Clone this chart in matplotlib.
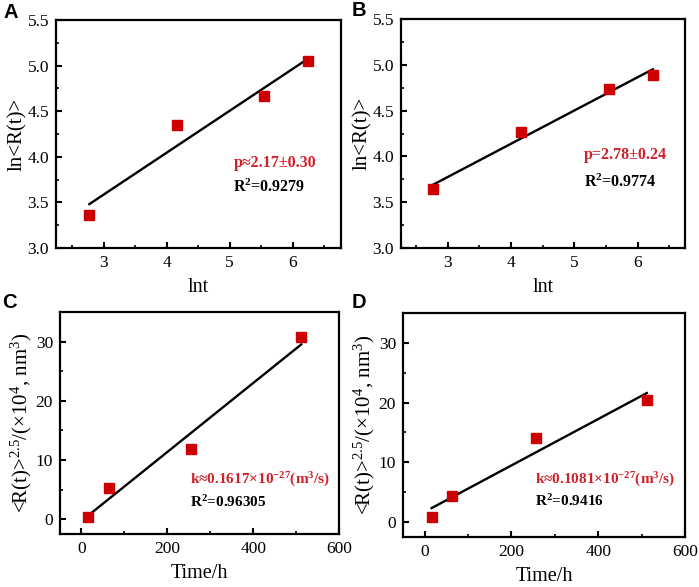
import numpy as np
import matplotlib
matplotlib.use("Agg")
import matplotlib.pyplot as plt
from matplotlib.ticker import MultipleLocator, FormatStrFormatter

plt.rcParams['font.family'] = ['Liberation Serif', 'DejaVu Serif']
plt.rcParams['mathtext.fontset'] = 'custom'
plt.rcParams['mathtext.rm'] = 'Liberation Serif'
plt.rcParams['mathtext.bf'] = 'Liberation Serif:bold'
plt.rcParams['mathtext.it'] = 'Liberation Serif:italic'

# ---- data ----
time_h = [16, 64, 256, 512]
ln_t = [2.77, 4.16, 5.55, 6.24]
lnR_A = [3.36, 4.35, 4.67, 5.05]
lnR_B = [3.64, 4.27, 4.74, 4.89]
R25_C = [0.4, 5.3, 11.8, 30.7]
R25_D = [0.9, 4.4, 14.1, 20.4]

txt_A = ["p≈2.17±0.30", r"R$^{\mathbf{2}}$=0.9279"]
txt_B = ["p=2.78±0.24", r"R$^{\mathbf{2}}$=0.9774"]
txt_C = [r"k≈0.1617×10$^{\mathbf{-27}}$(m$^{\mathbf{3}}$/s)", r"R$^{\mathbf{2}}$=0.96305"]
txt_D = [r"k≈0.1081×10$^{\mathbf{-27}}$(m$^{\mathbf{3}}$/s)", r"R$^{\mathbf{2}}$=0.9416"]

RED = '#d0202a'
W, H = 699, 587
fig = plt.figure(figsize=(W / 100, H / 100), dpi=100)

def pos(l, r, t, b):
    return [l / W, 1 - b / H, (r - l) / W, (b - t) / H]

def style(ax, xmaj, xmin, ymaj, ymin):
    for s in ax.spines.values():
        s.set_linewidth(1.6)
    ax.xaxis.set_major_locator(MultipleLocator(xmaj))
    ax.xaxis.set_minor_locator(MultipleLocator(xmin))
    ax.yaxis.set_major_locator(MultipleLocator(ymaj))
    ax.yaxis.set_minor_locator(MultipleLocator(ymin))
    ax.tick_params(which='both', direction='in', top=False, right=False, labelsize=12.5, pad=5)
    ax.tick_params(which='major', length=4, width=1.5)
    ax.tick_params(which='minor', length=2.5, width=1.2)

def panel(rect, x, y, xlim, ylim, xl, yl, txt, tpos, letter, lpos, xmaj, xmin, ymaj, ymin,
          yfmt=None, ypad=0.5, tsize=11.5):
    ax = fig.add_axes(rect)
    ax.plot(x, y, 's', color='#cc0000', markersize=6.5, zorder=3)
    c = np.polyfit(x, y, 1)
    xx = np.array([x[0], x[-1]])
    ax.plot(xx, np.polyval(c, xx), '-', color='black', lw=1.7, zorder=2)
    ax.set_xlim(*xlim)
    ax.set_ylim(*ylim)
    style(ax, xmaj, xmin, ymaj, ymin)
    if yfmt:
        ax.yaxis.set_major_formatter(yfmt)
    ax.set_xlabel(xl, fontsize=14.5, labelpad=5)
    ax.set_ylabel(yl, fontsize=15, labelpad=ypad)
    ax.text(tpos[0][0], tpos[0][1], txt[0], color=RED, fontsize=tsize, fontweight='bold', va='center')
    ax.text(tpos[1][0], tpos[1][1], txt[1], color='black', fontsize=tsize, fontweight='bold', va='center')
    fig.text(lpos[0] / W, 1 - lpos[1] / H, letter, family=['Liberation Sans', 'DejaVu Sans'],
             fontsize=14.5, fontweight='bold', ha='left', va='center')
    return ax

f1 = FormatStrFormatter('%.1f')

panel(pos(56, 341, 20, 248), ln_t, lnR_A, (2.24, 6.77), (3.0, 5.5), 'lnt', 'ln<R(t)>',
      txt_A, [(5.06, 3.93), (5.06, 3.66)], 'A', (3, 12), 1, 0.5, 0.5, 0.25, f1)
panel(pos(401, 685, 19, 248), ln_t, lnR_B, (2.26, 6.75), (3.0, 5.5), 'lnt', 'ln<R(t)>',
      txt_B, [(5.15, 4.02), (5.15, 3.72)], 'B', (352, 11), 1, 0.5, 0.5, 0.25, f1)
ylab = r"<R(t)>$^{2.5}$/(×10$^{4}$, nm$^{3}$)"
panel(pos(60, 339, 312, 534), time_h, R25_C, (-50, 600), (-2.5, 35), 'Time/h', ylab,
      txt_C, [(254, 6.7), (254, 2.9)], 'C', (2, 302), 200, 100, 10, 5, ypad=1.5, tsize=11)
panel(pos(403, 685, 313, 537), time_h, R25_D, (-50, 600), (-2.5, 35), 'Time/h', ylab,
      txt_D, [(254, 7.1), (254, 3.5)], 'D', (352, 302), 200, 100, 10, 5, ypad=1.5, tsize=11)

fig.savefig('out.png', dpi=100)
